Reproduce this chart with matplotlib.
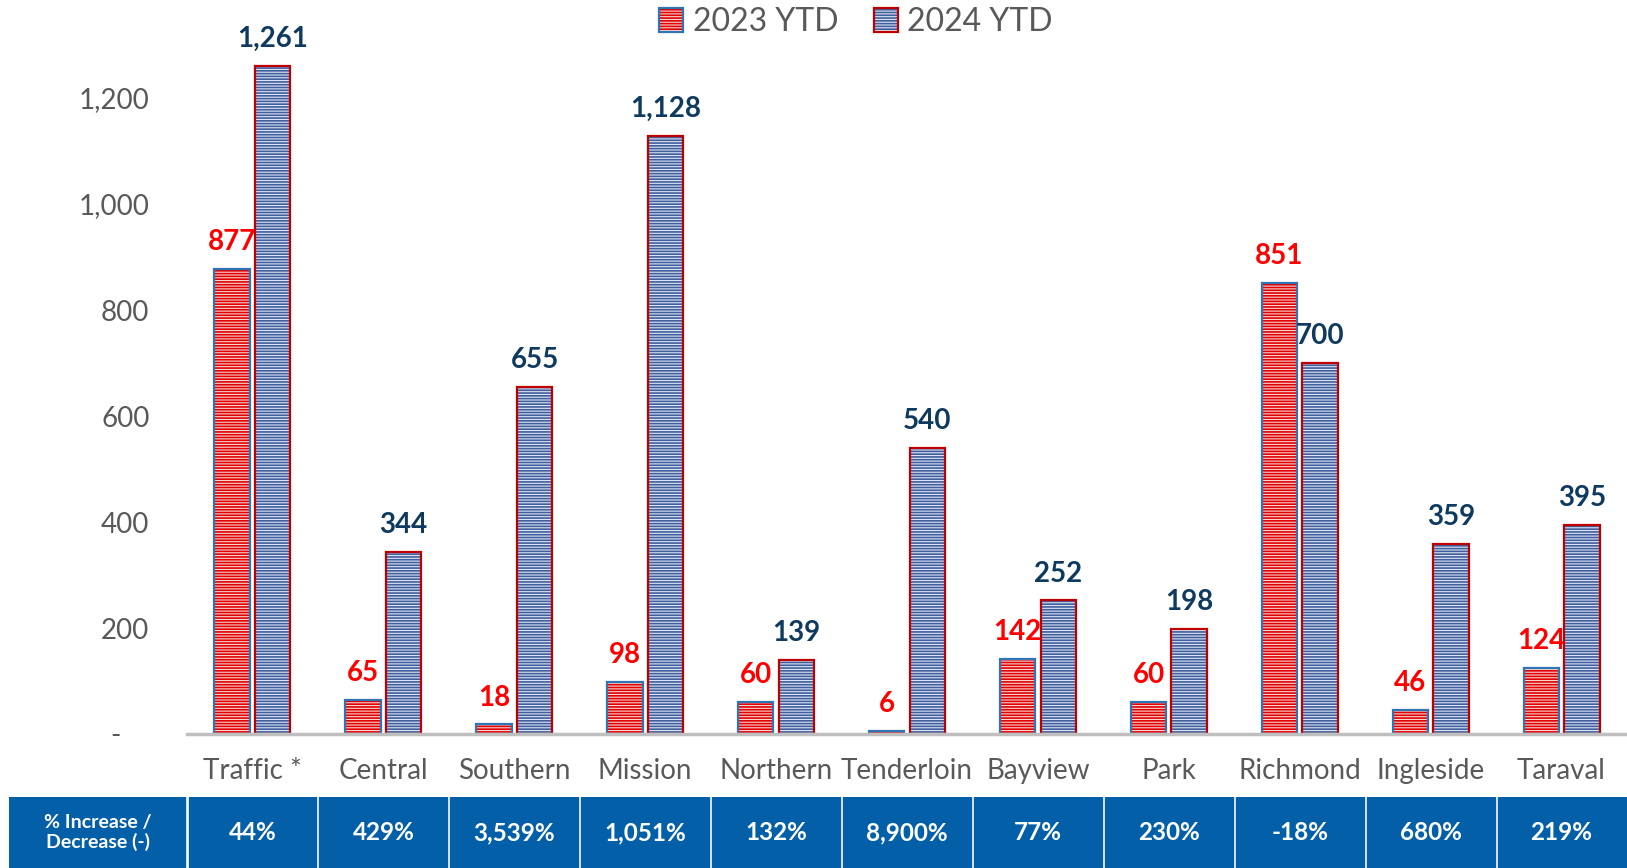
#!/usr/bin/env python3
import numpy as np
import matplotlib
matplotlib.use('Agg')
import matplotlib.pyplot as plt
from matplotlib.patches import Rectangle, Patch
from matplotlib.legend_handler import HandlerTuple
from matplotlib.ticker import FuncFormatter

plt.rcParams['font.family'] = ['Lato', 'DejaVu Sans']
plt.rcParams['hatch.linewidth'] = 1.2

# data
districts = ['Traffic *', 'Central', 'Southern', 'Mission', 'Northern', 'Tenderloin',
             'Bayview', 'Park', 'Richmond', 'Ingleside', 'Taraval']
ytd_2023 = [877, 65, 18, 98, 60, 6, 142, 60, 851, 46, 124]
ytd_2024 = [1261, 344, 655, 1128, 139, 540, 252, 198, 700, 359, 395]
series_labels = ['2023 YTD', '2024 YTD']
row_label = '% Increase /\nDecrease (-)'

pct_change = [(b - a) / a * 100 for a, b in zip(ytd_2023, ytd_2024)]

W, H = 1627, 868
fig = plt.figure(figsize=(W / 100, H / 100), dpi=100)

ax_left = 187 / W
ax_bottom = (H - 734) / H
ax = fig.add_axes([ax_left, ax_bottom, 1 - ax_left, 1 - ax_bottom])

x = np.arange(len(districts))
bw = 0.27
off = 0.155

red_face, red_hatch, red_edge = '#F7D3D3', '#E00000', '#2E75B6'
blue_face, blue_hatch, blue_edge = '#DDE4F1', '#3F5E9E', '#C00000'
stripes = '------'

# striped fill, then outline on top
ax.bar(x - off, ytd_2023, bw, color=red_face, edgecolor=red_hatch, hatch=stripes, linewidth=0, zorder=2)
ax.bar(x - off, ytd_2023, bw, fill=False, edgecolor=red_edge, linewidth=1.6, zorder=3)
ax.bar(x + off, ytd_2024, bw, color=blue_face, edgecolor=blue_hatch, hatch=stripes, linewidth=0, zorder=2)
ax.bar(x + off, ytd_2024, bw, fill=False, edgecolor=blue_edge, linewidth=1.6, zorder=3)

for xi, v in zip(x, ytd_2023):
    ax.annotate(f'{v:,}', (xi - off, v), xytext=(0, 10), textcoords='offset points',
                ha='center', va='bottom', color='#FF0000', fontsize=20, fontweight='bold')
for xi, v in zip(x, ytd_2024):
    ax.annotate(f'{v:,}', (xi + off, v), xytext=(0, 10), textcoords='offset points',
                ha='center', va='bottom', color='#0F3A5F', fontsize=20, fontweight='bold')

ax.set_xlim(-0.5, len(districts) - 0.5)
ax.set_ylim(0, 1385)
ax.set_yticks(range(0, 1201, 200))
ax.yaxis.set_major_formatter(FuncFormatter(lambda v, p: '-    ' if v == 0 else f'{int(v):,}'))
ax.set_xticks(x)
ax.set_xticklabels(districts)
ax.tick_params(axis='y', length=0, pad=27, labelsize=20, labelcolor='#595959')
ax.tick_params(axis='x', length=0, pad=17, labelsize=20, labelcolor='#595959')
for s in ['top', 'right', 'left']:
    ax.spines[s].set_visible(False)
ax.spines['bottom'].set_color('#BFBFBF')
ax.spines['bottom'].set_linewidth(2.5)
ax.spines['bottom'].set_zorder(4)

# table band under the chart
tb_left = 9 / W
tab = fig.add_axes([tb_left, 0, 1 - tb_left, (H - 797) / H])
unit = (W - 187) / len(districts)
x0 = -0.5 - (187 - 9) / unit
tab.set_xlim(x0, len(districts) - 0.5)
tab.set_ylim(0, 1)
tab.axis('off')
cell_color = '#035FA8'
gap = 1.5 / unit
tab.add_patch(Rectangle((x0, 0), -0.5 - x0 - gap, 1, color=cell_color))
tab.text((x0 - 0.5) / 2, 0.5, row_label, ha='center', va='center', color='white',
         fontsize=14, fontweight='bold', linespacing=1.15)
for xi, p in zip(x, pct_change):
    tab.add_patch(Rectangle((xi - 0.5 + gap, 0), 1 - 2 * gap, 1, color=cell_color))
    tab.text(xi, 0.5, f'{p:,.0f}%', ha='center', va='center', color='white',
             fontsize=17.5, fontweight='bold')

# legend: striped square plus its outline, drawn on top of each other
h23 = (Patch(facecolor=red_face, edgecolor=red_hatch, hatch=stripes, linewidth=0),
       Patch(fill=False, edgecolor=red_edge, linewidth=1.6))
h24 = (Patch(facecolor=blue_face, edgecolor=blue_hatch, hatch=stripes, linewidth=0),
       Patch(fill=False, edgecolor=blue_edge, linewidth=1.6))
leg = fig.legend([h23, h24], series_labels, loc='upper center', bbox_to_anchor=(856 / W, 1.025),
                 ncol=2, frameon=False, fontsize=23, handlelength=0.75, handleheight=0.75,
                 handletextpad=0.3, columnspacing=1.1,
                 handler_map={tuple: HandlerTuple(ndivide=1, pad=0)})
for t in leg.get_texts():
    t.set_color('#595959')

fig.savefig('out.png', dpi=100)
